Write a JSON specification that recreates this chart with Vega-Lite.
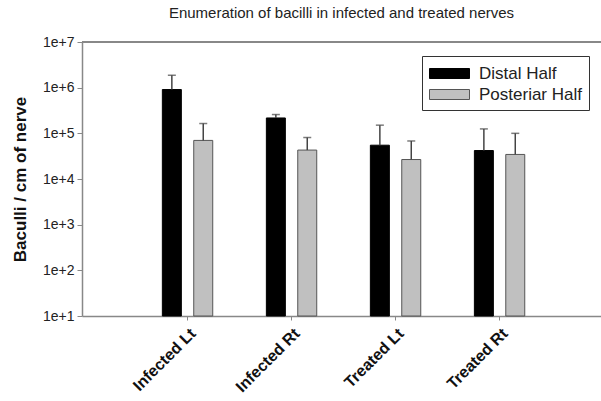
{
  "$schema": "https://vega.github.io/schema/vega-lite/v6.json",
  "width": 519,
  "height": 274,
  "autosize": {"type": "none"},
  "padding": {"left": 82, "top": 42, "right": 0, "bottom": 85},
  "background": "white",
  "config": {
    "view": {"stroke": null},
    "font": "Liberation Sans"
  },
  "title": {
    "text": "Enumeration of bacilli in infected and treated nerves",
    "fontSize": 15,
    "fontWeight": "normal",
    "color": "#222222",
    "font": "Liberation Sans",
    "anchor": "middle",
    "offset": 14
  },
  "data": {
    "values": [
      {"group": "Infected Lt", "half": "Distal Half", "value": 910000, "upper": 1870000},
      {"group": "Infected Lt", "half": "Posteriar Half", "value": 70000, "upper": 164000},
      {"group": "Infected Rt", "half": "Distal Half", "value": 217000, "upper": 258000},
      {"group": "Infected Rt", "half": "Posteriar Half", "value": 43000, "upper": 81000},
      {"group": "Treated Lt", "half": "Distal Half", "value": 55000, "upper": 151000},
      {"group": "Treated Lt", "half": "Posteriar Half", "value": 26700, "upper": 68000},
      {"group": "Treated Rt", "half": "Distal Half", "value": 42000, "upper": 125000},
      {"group": "Treated Rt", "half": "Posteriar Half", "value": 34500, "upper": 100000}
    ]
  },
  "encoding": {
    "x": {
      "field": "group",
      "type": "nominal",
      "sort": null,
      "scale": {"paddingInner": 0, "paddingOuter": 0.495, "align": 0.52},
      "axis": {
        "title": null,
        "labelAngle": -45,
        "labelFontSize": 16,
        "labelFontWeight": "bold",
        "labelColor": "#111111",
        "labelPadding": 5,
        "tickSize": 4,
        "tickColor": "#888888",
        "domainColor": "#888888",
        "domainWidth": 1.5
      }
    },
    "xOffset": {
      "field": "half",
      "type": "nominal",
      "sort": null,
      "scale": {"paddingInner": 0.395, "paddingOuter": 0.854}
    }
  },
  "layer": [
    {
      "mark": {"type": "rule", "color": "#888888", "strokeWidth": 1.5},
      "encoding": {"x": null, "xOffset": null, "y": {"datum": 10000000, "type": "quantitative", "scale": {"type": "log", "domain": [10, 10000000]}}}
    },
    {
      "mark": {"type": "bar", "strokeWidth": 1},
      "encoding": {
        "y": {
          "field": "value",
          "type": "quantitative",
          "scale": {"type": "log", "domain": [10, 10000000]},
          "axis": {
            "title": "Baculli / cm of nerve",
            "titleFontSize": 17,
            "titleFontWeight": "bold",
            "titleColor": "#111111",
            "titleX": -62,
            "titleBaseline": "middle",
            "values": [10, 100, 1000, 10000, 100000, 1000000, 10000000],
            "labelExpr": "'1e+' + round(log(datum.value) / LN10)",
            "labelFontSize": 14,
            "labelColor": "#222222",
            "labelPadding": 3,
            "tickSize": 5,
            "tickColor": "#888888",
            "domainColor": "#888888",
            "domainWidth": 1.5,
            "grid": false
          }
        },
        "y2": {"datum": 10},
        "fill": {
          "field": "half",
          "type": "nominal",
          "scale": {"domain": ["Distal Half", "Posteriar Half"], "range": ["#000000", "#c0c0c0"]},
          "legend": {
            "title": null,
            "orient": "none",
            "legendX": 340,
            "legendY": 14,
            "strokeColor": "#333333",
            "fillColor": "white",
            "padding": 7,
            "symbolType": "M-1,-0.5H3V0.5H-1Z",
            "symbolSize": 400,
            "symbolStrokeWidth": 1,
            "labelOffset": 29,
            "labelFontSize": 17,
            "labelColor": "#222222",
            "rowPadding": 2
          }
        },
        "stroke": {
          "field": "half",
          "type": "nominal",
          "scale": {"domain": ["Distal Half", "Posteriar Half"], "range": ["#000000", "#555555"]}
        }
      }
    },
    {
      "mark": {"type": "rule", "color": "#444444", "strokeWidth": 1.5},
      "encoding": {
        "y": {"field": "value", "type": "quantitative"},
        "y2": {"field": "upper"}
      }
    },
    {
      "mark": {"type": "tick", "color": "#444444", "thickness": 1.5, "size": 8, "orient": "horizontal"},
      "encoding": {
        "y": {"field": "upper", "type": "quantitative"}
      }
    }
  ]
}
